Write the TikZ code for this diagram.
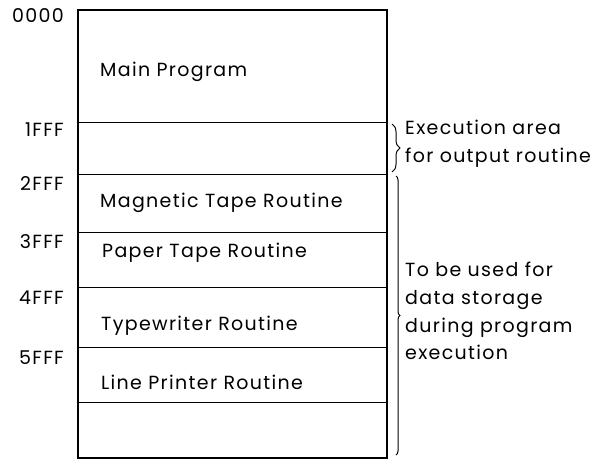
\documentclass[tikz,border=0pt]{standalone}
\usepackage{fontspec}
\setmainfont{Poppins}[LetterSpace=7]
\usetikzlibrary{positioning,fit,decorations.pathreplacing}

\begin{document}
\begin{tikzpicture}[
        x=1pt, y=-1pt,
        font=\fontsize{19}{22}\selectfont,
        node distance=0pt,
        seg/.style={
            rectangle,
            draw,
            line width=1pt,
            minimum width=309pt,
            inner sep=0pt,
            outer sep=0pt
        },
        addr/.style={
            anchor=east,
            inner sep=0pt
        },
        routine/.style={
            anchor=west,
            inner sep=0pt
        },
        note/.style={
            anchor=west,
            align=left,
            inner sep=0pt,
            font=\fontsize{19}{27.7}\selectfont
        },
        brace/.style={
            decorate,
            line width=1pt
        }
    ]
    \useasboundingbox (0,0) rectangle (602,459);
    % Memory segments
    \node[seg, minimum height=112pt, anchor=north west] (main) at (78,10) {};
    \node[seg, minimum height=52pt, below=of main] (exec) {};
    \node[seg, minimum height=58pt, below=of exec] (mag) {};
    \node[seg, minimum height=55pt, below=of mag] (paper) {};
    \node[seg, minimum height=60pt, below=of paper] (type) {};
    \node[seg, minimum height=55pt, below=of type] (lp) {};
    \node[seg, minimum height=56pt, below=of lp] (free) {};
    % Outer frame
    \node[fit=(main) (free), draw, line width=2pt, inner sep=0pt] (memory) {};
    % Addresses
    \node[addr] (a0000) at ([shift={(-14pt,-6pt)}]main.north west) {0000};
    \node[addr] (a1fff) at ([shift={(-14pt,-8pt)}]exec.north west) {1FFF};
    \node[addr] (a2fff) at ([shift={(-14pt,-10pt)}]mag.north west) {2FFF};
    \node[addr] (a3fff) at ([shift={(-14pt,-10pt)}]paper.north west) {3FFF};
    \node[addr] (a4fff) at ([shift={(-14pt,-11pt)}]type.north west) {4FFF};
    \node[addr] (a5fff) at ([shift={(-14pt,-11pt)}]lp.north west) {5FFF};
    % Routine names
    \node[routine] (tmain) at (100,72) {Main Program};
    \node[routine] (tmag) at (100,203) {Magnetic Tape Routine};
    \node[routine] (tpaper) at (102,253) {Paper Tape Routine};
    \node[routine] (ttype) at (101,326) {Typewriter Routine};
    \node[routine] (tlp) at (101,382) {Line Printer Routine};
    % Braces and notes
    \coordinate (b1top) at ([xshift=5pt,yshift=-2pt]exec.north east);
    \coordinate (b1bot) at ([xshift=5pt,yshift=2pt]exec.south east);
    \coordinate (b2top) at ([xshift=9pt,yshift=-2pt]mag.north east);
    \coordinate (b2bot) at ([xshift=9pt,yshift=3pt]free.south east);
    \draw[brace, decoration={brace, amplitude=8pt}] (b1top) -- (b1bot);
    \draw[brace, decoration={brace, amplitude=4pt}] (b2top) -- (b2bot);
    \node[note] (nexec) at (405,144) {Execution area\\for output routine};
    \node[note] (ndata) at (405,311) {To be used for\\data storage\\during program\\execution};
\end{tikzpicture}
\end{document}
